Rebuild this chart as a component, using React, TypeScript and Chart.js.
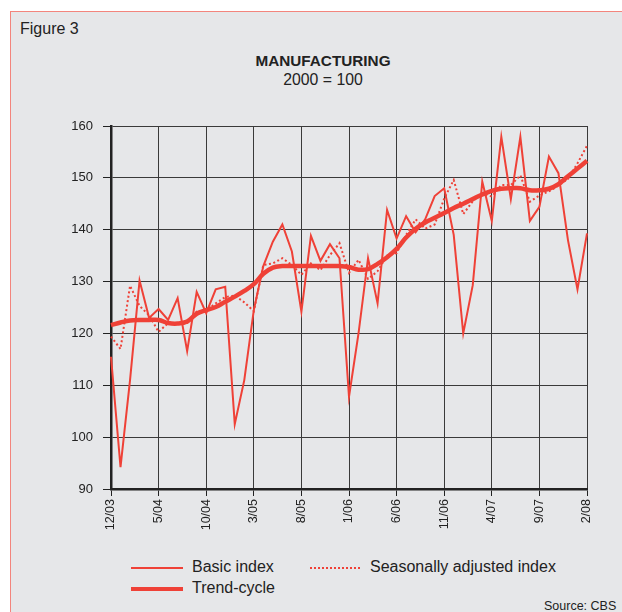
import React, { useEffect, useRef } from "react";
import { Chart, registerables } from "chart.js";

Chart.register(...registerables);

const months: string[] = [
  "12/03", "1/04", "2/04", "3/04", "4/04", "5/04", "6/04", "7/04", "8/04", "9/04", "10/04",
  "11/04", "12/04", "1/05", "2/05", "3/05", "4/05", "5/05", "6/05", "7/05", "8/05",
  "9/05", "10/05", "11/05", "12/05", "1/06", "2/06", "3/06", "4/06", "5/06", "6/06",
  "7/06", "8/06", "9/06", "10/06", "11/06", "12/06", "1/07", "2/07", "3/07", "4/07",
  "5/07", "6/07", "7/07", "8/07", "9/07", "10/07", "11/07", "12/07", "1/08", "2/08",
];

const basicIndex: number[] = [
  115.5, 94.2, 111, 130.2, 123, 124.7, 122.6, 126.8, 116.6, 128, 123.9,
  128.5, 129, 102.5, 111, 124.5, 133, 137.7, 141, 135.8, 124.2,
  138.8, 134, 137.2, 134.5, 107.8, 120, 134.5, 125.8, 143.8, 138.3,
  142.6, 139.5, 142, 146.5, 148, 139, 120, 129.3, 149.3, 141.7,
  157.9, 145.9, 157.9, 141.7, 144.4, 154.1, 150.9, 138, 128.5, 139.3,
];

const seasonallyAdjusted: number[] = [
  119.4, 117, 129.2, 125.3, 123.5, 120.3, 122, 121.8, 122, 124.2, 124.4,
  125.8, 127, 127.3, 126, 124.3, 133.2, 133.5, 134.5, 133.2, 131.3,
  133.5, 132.2, 135.1, 137.4, 131.7, 134.2, 130.5, 132, 135, 135.5,
  139, 142, 140.2, 141, 146, 149.6, 143, 145.5, 147, 146.4,
  148.6, 148.6, 150.5, 145.4, 146.6, 147.4, 148.5, 149.8, 152.8, 156.2,
];

const trendCycle: number[] = [
  121.6, 122.1, 122.5, 122.6, 122.6, 122.6, 122.0, 121.9, 122.3, 123.8, 124.5,
  125.1, 126.1, 127.1, 128.2, 129.5, 131.5, 132.7, 133, 133, 133,
  133, 133, 133, 133, 132.8, 132.3, 132.4, 133.4, 134.7, 136.3,
  138.5, 140.2, 141.4, 142.3, 143.2, 144.2, 145, 145.9, 146.8, 147.5,
  147.9, 148, 148, 147.6, 147.6, 147.9, 148.8, 150.3, 151.8, 153.3,
];

const yMin = 90;
const yMax = 160;
const yStep = 10;
const labelEvery = 5;

const RED = "#ef4137";
const FONT = "'Liberation Sans', Arial, sans-serif";

export default function App() {
  const canvasRef = useRef<HTMLCanvasElement | null>(null);

  useEffect(() => {
    document.body.style.margin = "0";
    const canvas = canvasRef.current;
    if (!canvas) return;
    const chart = new Chart(canvas, {
      type: "line",
      data: {
        labels: months,
        datasets: [
          {
            label: "Basic index",
            data: basicIndex,
            borderColor: RED,
            borderWidth: 2,
            pointRadius: 0,
            tension: 0,
            fill: false,
          },
          {
            label: "Seasonally adjusted index",
            data: seasonallyAdjusted,
            borderColor: RED,
            borderWidth: 2,
            borderDash: [2, 2.5],
            pointRadius: 0,
            tension: 0,
            fill: false,
          },
          {
            label: "Trend-cycle",
            data: trendCycle,
            borderColor: RED,
            borderWidth: 4.5,
            pointRadius: 0,
            tension: 0.4,
            fill: false,
          },
        ],
      },
      options: {
        responsive: false,
        animation: false,
        layout: { padding: { top: 26, right: 35, left: 0, bottom: 0 } },
        plugins: {
          legend: { display: false },
          title: { display: false },
          tooltip: { enabled: false },
        },
        scales: {
          x: {
            type: "category",
            offset: false,
            afterFit: (s: any) => {
              s.height = 61;
            },
            grid: {
              offset: false,
              color: "#3a3a3a",
              lineWidth: 1,
              tickLength: 7,
              tickColor: "#222",
            },
            border: { display: true, color: "#222", width: 2.5 },
            ticks: {
              autoSkip: false,
              maxRotation: 90,
              minRotation: 90,
              padding: 3,
              color: "#222",
              font: { family: FONT, size: 12.5 },
              callback: (_v: any, i: number) => (i % labelEvery === 0 ? months[i] : null),
            },
          },
          y: {
            min: yMin,
            max: yMax,
            afterFit: (s: any) => {
              s.width = 111;
            },
            grid: {
              color: "#3a3a3a",
              lineWidth: 1,
              tickLength: 8,
              tickColor: "#222",
            },
            border: { display: true, color: "#222", width: 2.5 },
            ticks: {
              stepSize: yStep,
              padding: 10,
              color: "#222",
              font: { family: FONT, size: 13 },
            },
          },
        },
      },
    });
    return () => chart.destroy();
  }, []);

  const text: React.CSSProperties = { position: "absolute", fontFamily: FONT, color: "#222", whiteSpace: "nowrap" };

  return (
    <div style={{ position: "absolute", left: 0, top: 0, width: 622, height: 612, background: "#fff", overflow: "hidden" }}>
      <div
        style={{
          position: "absolute",
          left: 10,
          top: 11,
          width: 640,
          height: 640,
          background: "#e6e7e9",
          borderTop: "1.5px solid #f3857d",
          borderLeft: "1.5px solid #f3857d",
        }}
      />
      <div style={{ ...text, left: 20, top: 20, fontSize: 16 }}>Figure 3</div>
      <div style={{ ...text, left: 0, width: 646, top: 52, fontSize: 15.3, fontWeight: "bold", textAlign: "center" }}>MANUFACTURING</div>
      <div style={{ ...text, left: 0, width: 646, top: 71, fontSize: 15.8, textAlign: "center" }}>2000 = 100</div>
      <canvas ref={canvasRef} width={622} height={450} style={{ position: "absolute", left: 0, top: 100, width: 622, height: 450 }} />
      <div style={{ position: "absolute", left: 131, top: 567, width: 52, borderTop: `2px solid ${RED}` }} />
      <div style={{ ...text, left: 192, top: 558, fontSize: 16 }}>Basic index</div>
      <div style={{ position: "absolute", left: 310, top: 567, width: 50, borderTop: `2px dotted ${RED}` }} />
      <div style={{ ...text, left: 370, top: 558, fontSize: 16 }}>Seasonally adjusted index</div>
      <div style={{ position: "absolute", left: 131, top: 587, width: 52, borderTop: `4.5px solid ${RED}` }} />
      <div style={{ ...text, left: 192, top: 579, fontSize: 16 }}>Trend-cycle</div>
      <div style={{ ...text, left: 544, top: 599, fontSize: 12.5 }}>Source: CBS</div>
    </div>
  );
}
